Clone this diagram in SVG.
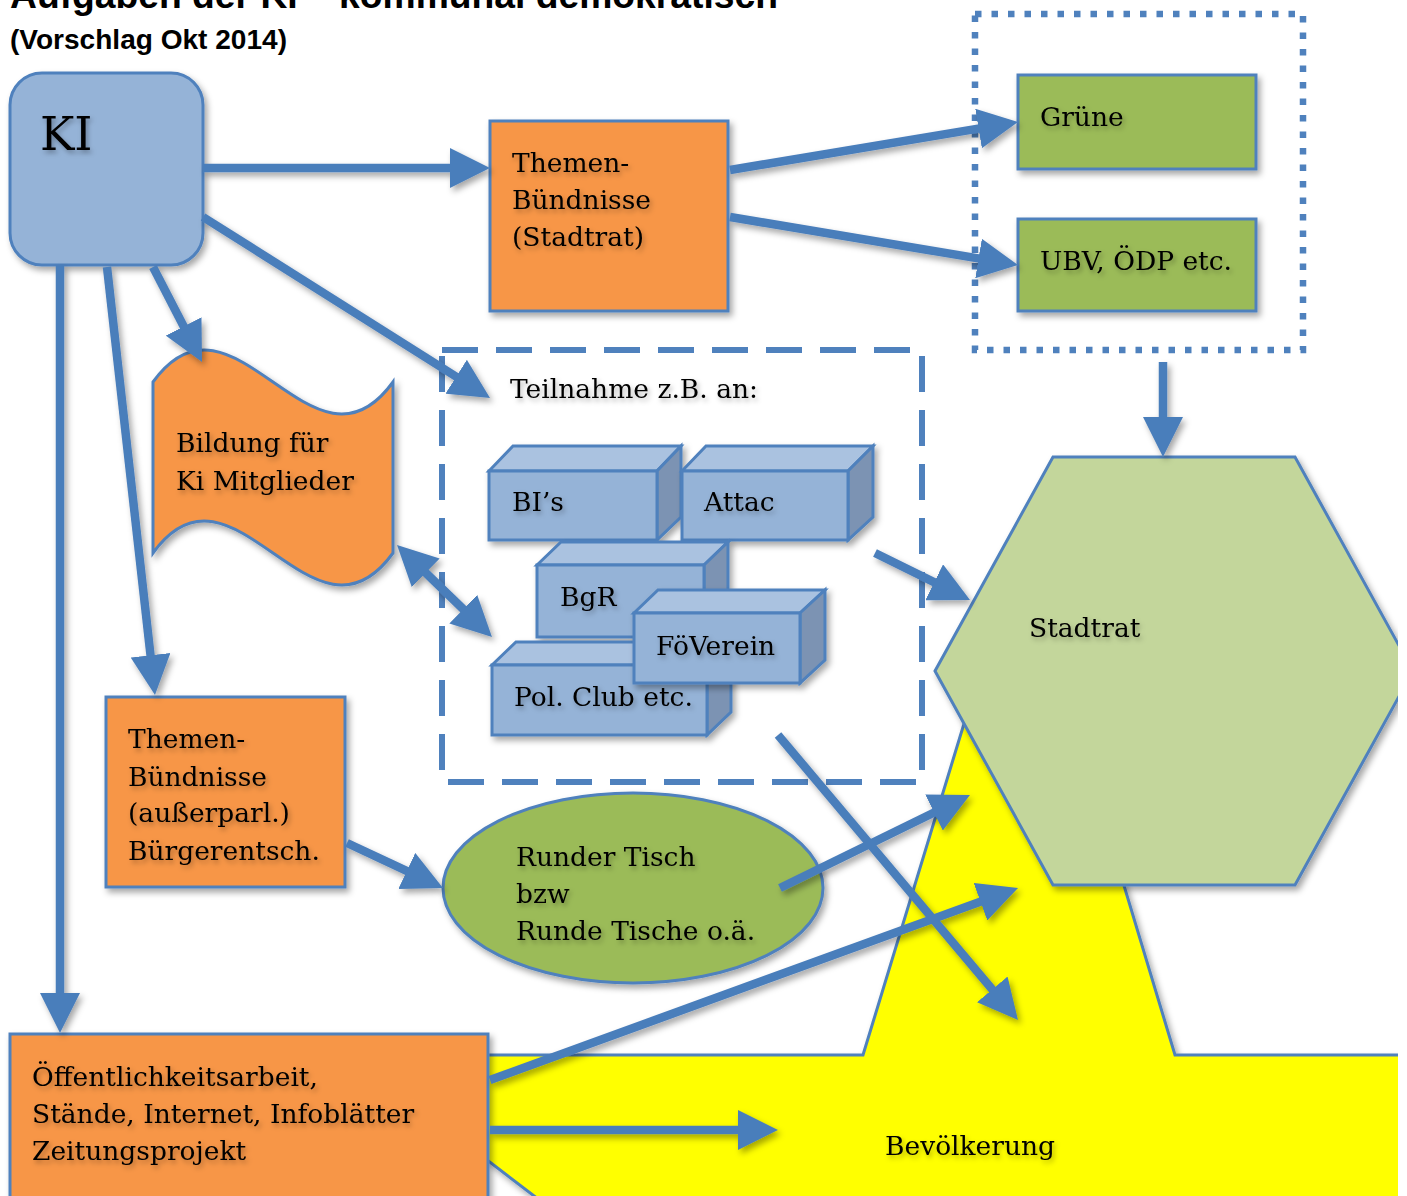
<svg xmlns="http://www.w3.org/2000/svg" width="1407" height="1196" viewBox="0 0 1407 1196">
<style>
.t{font-family:"DejaVu Serif","Liberation Serif",serif;font-size:26.5px;fill:#000;filter:url(#tsh);}
.big{font-size:46px;}
.h{font-family:"Liberation Sans",Arial,sans-serif;font-weight:bold;fill:#000;}
.ln{stroke:#4F81BD;stroke-width:3;}
.blue{fill:#95B3D7;}
.orange{fill:#F79646;}
.green{fill:#9BBB59;}
.cf{fill:#95B3D7;stroke:#4F81BD;stroke-width:3;stroke-linejoin:miter;}
.ct{fill:#AAC2E0;stroke:#4F81BD;stroke-width:3;}
.cs{fill:#7B93B3;stroke:#4F81BD;stroke-width:3;}
.c{stroke:#4A7EBB;stroke-width:8.5;fill:none;marker-end:url(#ah);}
</style>
<defs>
<filter id="sh" filterUnits="userSpaceOnUse" x="0" y="0" width="1407" height="1196">
<feDropShadow dx="3" dy="4" stdDeviation="3" flood-color="#000" flood-opacity="0.35"/>
</filter>
<filter id="tsh" x="-10%" y="-20%" width="130%" height="160%">
<feDropShadow dx="2" dy="3" stdDeviation="2.5" flood-color="#000" flood-opacity="0.3"/>
</filter>
<marker id="ah" markerUnits="userSpaceOnUse" viewBox="0 0 40 40" markerWidth="40" markerHeight="40" refX="24" refY="20" orient="auto">
<path d="M0,0 L40,20 L0,40 z" fill="#4A7EBB"/>
</marker>
<marker id="ah2" markerUnits="userSpaceOnUse" viewBox="0 0 40 40" markerWidth="40" markerHeight="40" refX="24" refY="20" orient="auto-start-reverse">
<path d="M0,0 L40,20 L0,40 z" fill="#4A7EBB"/>
</marker>
<clipPath id="page"><rect x="0" y="0" width="1398" height="1196"/></clipPath>
</defs>

<g id="title">
<text class="h" x="10" y="8" font-size="37" textLength="768" lengthAdjust="spacingAndGlyphs">Aufgaben der KI – kommunal demokratisch</text>
<text class="h" x="10" y="49" font-size="27" textLength="277" lengthAdjust="spacingAndGlyphs">(Vorschlag Okt 2014)</text>
</g>

<g id="bevoelkerung" clip-path="url(#page)">
<polygon points="350,1055 863,1055 1020,540 1175,1055 1420,1055 1420,1300 670,1300" fill="#FFFF00" stroke="#4F81BD" stroke-width="3" filter="url(#sh)"/>
<text class="t" x="885" y="1155">Bevölkerung</text>
</g>

<g id="stadtrat" clip-path="url(#page)">
<polygon points="935,671 1053,457 1295,457 1413,671 1295,885 1053,885" fill="#C3D69B" class="ln" filter="url(#sh)"/>
<text class="t" x="1029" y="637">Stadtrat</text>
</g>

<g id="parteien-rahmen">
<rect x="975" y="14" width="328" height="336" fill="none" stroke="#4F81BD" stroke-width="6.5" stroke-dasharray="6.5 10"/>
</g>

<g id="teilnahme-rahmen">
<rect x="442" y="350" width="480" height="432" fill="none" stroke="#4F81BD" stroke-width="6" stroke-dasharray="36 18"/>
<text class="t" x="510" y="398">Teilnahme z.B. an:</text>
</g>

<g id="ki">
<rect x="10" y="73" width="193" height="192" rx="32" class="blue ln" filter="url(#sh)"/>
<text class="t big" x="40" y="150">KI</text>
</g>

<g id="themen-stadtrat">
<rect x="490" y="121" width="238" height="190" class="orange ln" filter="url(#sh)"/>
<text class="t" x="512" y="172">Themen-</text>
<text class="t" x="512" y="209">Bündnisse</text>
<text class="t" x="512" y="246">(Stadtrat)</text>
</g>

<g id="gruene">
<rect x="1018" y="75" width="238" height="94" class="green ln" filter="url(#sh)"/>
<text class="t" x="1040" y="126">Grüne</text>
</g>

<g id="ubv">
<rect x="1018" y="219" width="238" height="92" class="green ln" filter="url(#sh)"/>
<text class="t" x="1040" y="270">UBV, ÖDP etc.</text>
</g>

<g id="bildung">
<path d="M153,382 C233,271 313,493 393,382 L393,553 C313,664 233,442 153,553 Z" class="orange ln" filter="url(#sh)"/>
<text class="t" x="176" y="452">Bildung für</text>
<text class="t" x="176" y="490">Ki Mitglieder</text>
</g>

<g id="bis" filter="url(#sh)">
<polygon points="489,471 513,446 681,446 657,471" class="ct"/>
<polygon points="657,471 681,446 681,517 657,540" class="cs"/>
<rect x="489" y="471" width="168" height="69" class="cf"/>
<text class="t" x="512" y="511">BI’s</text>
</g>

<g id="attac" filter="url(#sh)">
<polygon points="682,471 706,446 873,446 848,471" class="ct"/>
<polygon points="848,471 873,446 873,517 848,540" class="cs"/>
<rect x="682" y="471" width="166" height="69" class="cf"/>
<text class="t" x="704" y="511">Attac</text>
</g>

<g id="bgr" filter="url(#sh)">
<polygon points="537,565 561,542 728,542 704,565" class="ct"/>
<polygon points="704,565 728,542 728,614 704,637" class="cs"/>
<rect x="537" y="565" width="167" height="72" class="cf"/>
<text class="t" x="560" y="606">BgR</text>
</g>

<g id="pol-club" filter="url(#sh)">
<polygon points="492,665 516,642 731,642 707,665" class="ct"/>
<polygon points="707,665 731,642 731,712 707,735" class="cs"/>
<rect x="492" y="665" width="215" height="70" class="cf"/>
<text class="t" x="514" y="706">Pol. Club etc.</text>
</g>

<g id="foeverein" filter="url(#sh)">
<polygon points="634,613 658,590 825,590 800,613" class="ct"/>
<polygon points="800,613 825,590 825,660 800,683" class="cs"/>
<rect x="634" y="613" width="166" height="70" class="cf"/>
<text class="t" x="656" y="655">FöVerein</text>
</g>

<g id="themen-ausserparl">
<rect x="106" y="697" width="239" height="190" class="orange ln" filter="url(#sh)"/>
<text class="t" x="128" y="748">Themen-</text>
<text class="t" x="128" y="786">Bündnisse</text>
<text class="t" x="128" y="822">(außerparl.)</text>
<text class="t" x="128" y="860">Bürgerentsch.</text>
</g>

<g id="runder-tisch">
<ellipse cx="633" cy="888" rx="190" ry="95" class="green ln" filter="url(#sh)"/>
<text class="t" x="516" y="866">Runder Tisch</text>
<text class="t" x="516" y="903">bzw</text>
<text class="t" x="516" y="940">Runde Tische o.ä.</text>
</g>

<g id="oeffentlichkeit">
<rect x="10" y="1034" width="478" height="180" class="orange ln" filter="url(#sh)"/>
<text class="t" x="32" y="1086">Öffentlichkeitsarbeit,</text>
<text class="t" x="32" y="1123">Stände, Internet, Infoblätter</text>
<text class="t" x="32" y="1160">Zeitungsprojekt</text>
</g>

<g id="connectors" filter="url(#sh)">
<line class="c" x1="203" y1="168" x2="474" y2="168"/>
<line class="c" x1="203" y1="217" x2="476.5" y2="389.5"/>
<line class="c" x1="153" y1="267" x2="194.7" y2="347.8"/>
<line class="c" x1="107" y1="267" x2="153.2" y2="679.1"/>
<line class="c" x1="60" y1="265" x2="60" y2="1017" stroke-width="9"/>
<line class="c" x1="730" y1="170" x2="1002.2" y2="124.6"/>
<line class="c" x1="730" y1="217" x2="1002.2" y2="262.4"/>
<line class="c" x1="1163" y1="362" x2="1163" y2="441"/>
<line class="c" x1="408.5" y1="556.1" x2="480.5" y2="625.9" style="marker-start:url(#ah2);marker-end:url(#ah2)"/>
<line class="c" x1="875" y1="553" x2="955.7" y2="592.9"/>
<line class="c" x1="347" y1="843" x2="428.5" y2="881.2"/>
<line class="c" x1="780" y1="888" x2="955.6" y2="802"/>
<line class="c" x1="778" y1="735" x2="1007.7" y2="1007.8"/>
<line class="c" x1="490" y1="1080" x2="1003" y2="893.5"/>
<line class="c" x1="490" y1="1130" x2="762" y2="1130"/>
</g>
</svg>
